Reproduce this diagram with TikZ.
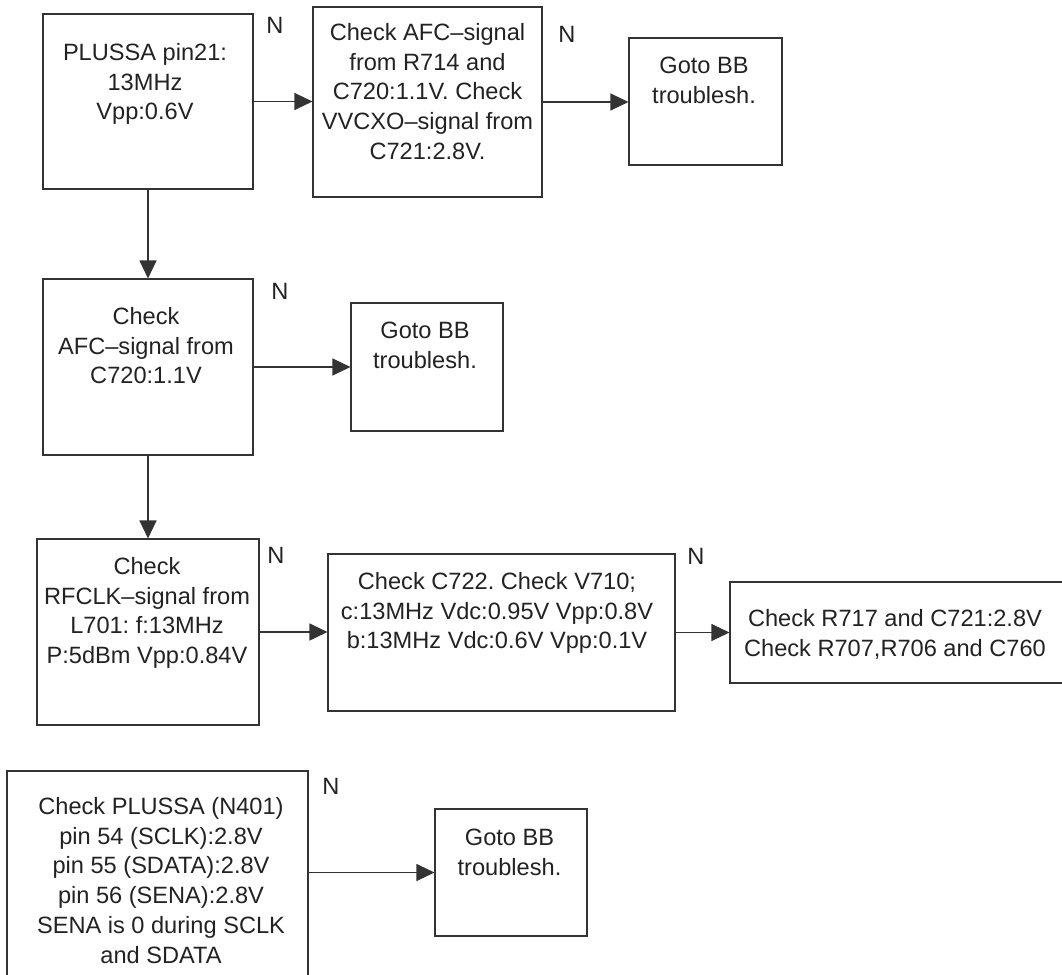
\documentclass[tikz,border=0pt]{standalone}
\usepackage{fontspec}
\setmainfont{Liberation Sans}
\usetikzlibrary{arrows.meta}
\definecolor{ink}{HTML}{222222}
\definecolor{rule}{HTML}{333333}
\frenchspacing
\begin{document}
\begin{tikzpicture}[x=0.75pt,y=-0.75pt,
  box/.style={draw=rule,line width=0.8pt,rectangle,inner sep=0pt},
  txt/.style={anchor=north,inner sep=0pt,align=center,text=ink,
    font=\fontsize{17.7}{22.3}\selectfont},
  nlabel/.style={inner sep=0pt,text=ink,font=\fontsize{17.7}{22.3}\selectfont},
  flow/.style={draw=rule,line width=0.8pt,
    -{Triangle[length=13.5pt,width=12.75pt]}}]
\useasboundingbox (0,0) rectangle (1062,974);

% boxes
\node[box,minimum width=157.5pt,minimum height=131.25pt] (a) at (148,101.5) {};
\node[box,minimum width=171.75pt,minimum height=142.5pt] (b) at (427.5,102) {};
\node[box,minimum width=114.75pt,minimum height=95.25pt] (c) at (705.5,101.5) {};
\node[box,minimum width=157.5pt,minimum height=132pt] (d) at (148,367) {};
\node[box,minimum width=114pt,minimum height=96pt] (e) at (427,367) {};
\node[box,minimum width=166.5pt,minimum height=139.5pt] (f) at (148,632) {};
\node[box,minimum width=260.25pt,minimum height=117.75pt] (g) at (501.5,632.5) {};
% the last row boxes run past the page edge
\node[box,minimum width=255pt,minimum height=75.75pt] (h) at (900,632.5) {};
\node[box,minimum width=225.75pt,minimum height=155pt] (i) at (157.5,874.3) {};
\node[box,minimum width=114pt,minimum height=95.25pt] (j) at (511,872.5) {};

% box texts
\node[txt] (ta) at (145,43) {PLUSSA pin21:\\13MHz\\Vpp:0.6V};
\node[txt] (tb) at (427.5,23) {Check AFC–signal\\from R714 and\\C720:1.1V. Check\\VVCXO–signal from\\C721:2.8V.};
\node[txt] (tc) at (704,57) {Goto BB\\troublesh.};
\node[txt] (td) at (146,307) {Check\\AFC–signal from\\C720:1.1V};
\node[txt] (te) at (425,322) {Goto BB\\troublesh.};
\node[txt] (tf) at (147,557) {Check\\RFCLK–signal from\\L701: f:13MHz\\P:5dBm Vpp:0.84V};
\node[txt] (tg) at (497,572) {Check C722. Check V710;\\c:13MHz Vdc:0.95V Vpp:0.8V\\b:13MHz Vdc:0.6V Vpp:0.1V};
\node[txt] (th) at (895,609) {Check R717 and C721:2.8V\\Check R707,R706 and C760};
\node[txt] (ti) at (161,797) {Check PLUSSA (N401)\\pin 54 (SCLK):2.8V\\pin 55 (SDATA):2.8V\\pin 56 (SENA):2.8V\\SENA is 0 during SCLK\\and SDATA};
\node[txt] (tj) at (509.5,829) {Goto BB\\troublesh.};

% "N" branch labels
\node[nlabel] (na) at (275,25.5) {N};
\node[nlabel] (nb) at (567,34.5) {N};
\node[nlabel] (nd) at (280,291) {N};
\node[nlabel] (nf) at (276,555) {N};
\node[nlabel] (ng) at (696,556) {N};
\node[nlabel] (ni) at (331,786) {N};

% connectors
\draw[flow] (a.east) -- (b.west |- a.east);
\draw[flow] (b.east) -- (c.west |- b.east);
\draw[flow] (a.south) -- (d.north);
\draw[flow] (d.east) -- (e.west |- d.east);
\draw[flow] (d.south) -- (f.north);
\draw[flow] (f.east) -- (g.west |- f.east);
\draw[flow] (g.east) -- (h.west |- g.east);
\draw[flow] (i.east |- j.west) -- (j.west);
\end{tikzpicture}
\end{document}
